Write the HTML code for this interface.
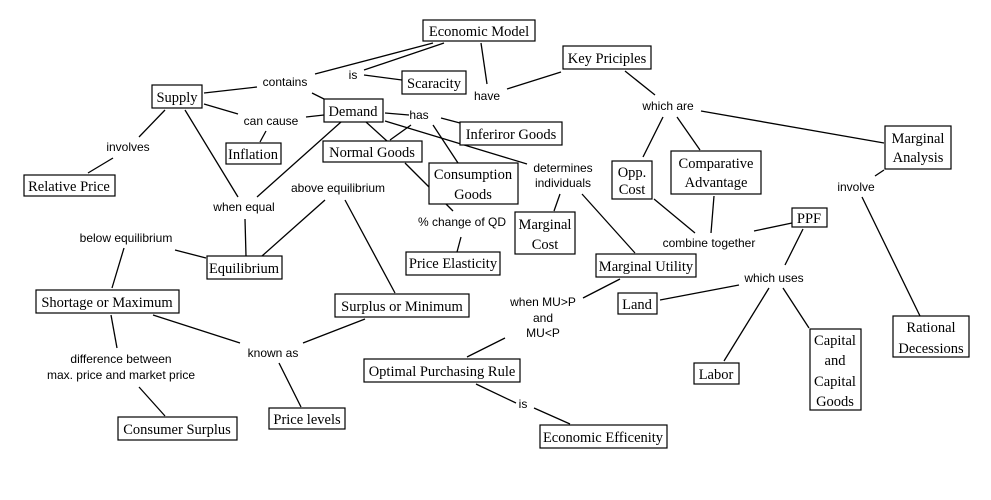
<!DOCTYPE html>
<html><head><meta charset="utf-8"><style>
html,body{margin:0;padding:0;background:#fff;}
svg{display:block}
.b{fill:#fff;stroke:#000;stroke-width:1.2}
.t{font-family:"Liberation Serif",serif;font-size:14.5px;fill:#000;text-anchor:middle}
.l{font-family:"Liberation Sans",sans-serif;font-size:12px;fill:#000;text-anchor:middle}
line{stroke:#000;stroke-width:1.3}
</style></head><body>
<svg width="991" height="500" viewBox="0 0 991 500" xmlns="http://www.w3.org/2000/svg">
<g>
<line x1="433" y1="43" x2="315" y2="74"/>
<line x1="444" y1="43" x2="364" y2="70"/>
<line x1="364" y1="75" x2="402" y2="80"/>
<line x1="481" y1="43" x2="487" y2="84"/>
<line x1="257" y1="87" x2="204" y2="93"/>
<line x1="312" y1="93" x2="324" y2="99"/>
<line x1="204" y1="104" x2="238" y2="114"/>
<line x1="306" y1="117" x2="324" y2="115"/>
<line x1="266" y1="131" x2="260" y2="142"/>
<line x1="165" y1="110" x2="139" y2="137"/>
<line x1="113" y1="158" x2="88" y2="173"/>
<line x1="185" y1="110" x2="238" y2="197"/>
<line x1="341" y1="122" x2="257" y2="197"/>
<line x1="385" y1="113" x2="409" y2="115"/>
<line x1="441" y1="118" x2="460" y2="123"/>
<line x1="411" y1="125" x2="390" y2="140"/>
<line x1="433" y1="125" x2="458" y2="163"/>
<line x1="366" y1="122" x2="387" y2="141"/>
<line x1="385" y1="121" x2="527" y2="164"/>
<line x1="405" y1="163" x2="453" y2="211"/>
<line x1="461" y1="237" x2="457" y2="252"/>
<line x1="325" y1="200" x2="262" y2="256"/>
<line x1="345" y1="200" x2="395" y2="293"/>
<line x1="245" y1="219" x2="246" y2="256"/>
<line x1="507" y1="89" x2="561" y2="72"/>
<line x1="625" y1="71" x2="655" y2="95"/>
<line x1="663" y1="117" x2="643" y2="157"/>
<line x1="677" y1="117" x2="700" y2="150"/>
<line x1="701" y1="111" x2="884" y2="143"/>
<line x1="884" y1="170" x2="875" y2="176"/>
<line x1="862" y1="197" x2="920" y2="316"/>
<line x1="654" y1="199" x2="695" y2="233"/>
<line x1="714" y1="196" x2="711" y2="233"/>
<line x1="754" y1="231" x2="792" y2="223"/>
<line x1="803" y1="229" x2="785" y2="265"/>
<line x1="560" y1="194" x2="554" y2="211"/>
<line x1="582" y1="194" x2="635" y2="253"/>
<line x1="124" y1="248" x2="112" y2="288"/>
<line x1="175" y1="250" x2="206" y2="258"/>
<line x1="153" y1="315" x2="240" y2="343"/>
<line x1="303" y1="343" x2="365" y2="319"/>
<line x1="111" y1="315" x2="117" y2="348"/>
<line x1="139" y1="387" x2="165" y2="416"/>
<line x1="279" y1="363" x2="301" y2="407"/>
<line x1="620" y1="279" x2="583" y2="298"/>
<line x1="505" y1="338" x2="467" y2="357"/>
<line x1="476" y1="384" x2="516" y2="403"/>
<line x1="534" y1="408" x2="570" y2="424"/>
<line x1="739" y1="285" x2="660" y2="300"/>
<line x1="769" y1="288" x2="724" y2="361"/>
<line x1="783" y1="288" x2="809" y2="328"/>
</g>
<g>
<rect class="b" x="423" y="20" width="112" height="21"/><text class="t" x="479" y="36">Economic Model</text>
<rect class="b" x="402" y="71" width="64" height="23"/><text class="t" x="434" y="88">Scaracity</text>
<rect class="b" x="563" y="46" width="88" height="23"/><text class="t" x="607" y="63">Key Priciples</text>
<rect class="b" x="152" y="85" width="50" height="23"/><text class="t" x="177" y="102">Supply</text>
<rect class="b" x="324" y="99" width="59" height="23"/><text class="t" x="353" y="116">Demand</text>
<rect class="b" x="460" y="122" width="102" height="23"/><text class="t" x="511" y="139">Inferiror Goods</text>
<rect class="b" x="226" y="143" width="55" height="21"/><text class="t" x="253" y="159">Inflation</text>
<rect class="b" x="323" y="141" width="99" height="21"/><text class="t" x="372" y="157">Normal Goods</text>
<rect class="b" x="429" y="163" width="89" height="41"/><text class="t" x="473" y="179">Consumption</text><text class="t" x="473" y="199">Goods</text>
<rect class="b" x="24" y="175" width="91" height="21"/><text class="t" x="69" y="191">Relative Price</text>
<rect class="b" x="612" y="161" width="40" height="38"/><text class="t" x="632" y="177">Opp.</text><text class="t" x="632" y="194">Cost</text>
<rect class="b" x="671" y="151" width="90" height="43"/><text class="t" x="716" y="168">Comparative</text><text class="t" x="716" y="187">Advantage</text>
<rect class="b" x="885" y="126" width="66" height="43"/><text class="t" x="918" y="143">Marginal</text><text class="t" x="918" y="162">Analysis</text>
<rect class="b" x="515" y="212" width="60" height="42"/><text class="t" x="545" y="229">Marginal</text><text class="t" x="545" y="249">Cost</text>
<rect class="b" x="792" y="208" width="35" height="19"/><text class="t" x="809" y="223">PPF</text>
<rect class="b" x="406" y="252" width="94" height="23"/><text class="t" x="453" y="268">Price Elasticity</text>
<rect class="b" x="207" y="256" width="75" height="23"/><text class="t" x="244" y="273">Equilibrium</text>
<rect class="b" x="596" y="254" width="100" height="23"/><text class="t" x="646" y="271">Marginal Utility</text>
<rect class="b" x="36" y="290" width="143" height="23"/><text class="t" x="107" y="307">Shortage or Maximum</text>
<rect class="b" x="335" y="294" width="134" height="23"/><text class="t" x="402" y="311">Surplus or Minimum</text>
<rect class="b" x="618" y="293" width="39" height="21"/><text class="t" x="637" y="309">Land</text>
<rect class="b" x="893" y="316" width="76" height="41"/><text class="t" x="931" y="332">Rational</text><text class="t" x="931" y="353">Decessions</text>
<rect class="b" x="810" y="329" width="51" height="81"/><text class="t" x="835" y="345">Capital</text><text class="t" x="835" y="365">and</text><text class="t" x="835" y="386">Capital</text><text class="t" x="835" y="406">Goods</text>
<rect class="b" x="364" y="359" width="156" height="23"/><text class="t" x="442" y="376">Optimal Purchasing Rule</text>
<rect class="b" x="694" y="363" width="45" height="21"/><text class="t" x="716" y="379">Labor</text>
<rect class="b" x="118" y="417" width="119" height="23"/><text class="t" x="177" y="434">Consumer Surplus</text>
<rect class="b" x="269" y="408" width="76" height="21"/><text class="t" x="307" y="424">Price levels</text>
<rect class="b" x="540" y="425" width="127" height="23"/><text class="t" x="603" y="442">Economic Efficenity</text>
</g>
<g>
<text class="l" x="285" y="86">contains</text>
<text class="l" x="353" y="79">is</text>
<text class="l" x="487" y="100">have</text>
<text class="l" x="419" y="119">has</text>
<text class="l" x="271" y="125">can cause</text>
<text class="l" x="128" y="151">involves</text>
<text class="l" x="668" y="110">which are</text>
<text class="l" x="563" y="172">determines</text>
<text class="l" x="563" y="187">individuals</text>
<text class="l" x="856" y="191">involve</text>
<text class="l" x="244" y="211">when equal</text>
<text class="l" x="338" y="192">above equilibrium</text>
<text class="l" x="462" y="226">% change of QD</text>
<text class="l" x="126" y="242">below equilibrium</text>
<text class="l" x="709" y="247">combine together</text>
<text class="l" x="774" y="282">which uses</text>
<text class="l" x="543" y="306">when MU&gt;P</text>
<text class="l" x="543" y="322">and</text>
<text class="l" x="543" y="337">MU&lt;P</text>
<text class="l" x="273" y="357">known as</text>
<text class="l" x="121" y="363">difference between</text>
<text class="l" x="121" y="379">max. price and market price</text>
<text class="l" x="523" y="408">is</text>
</g>
</svg>
</body></html>
